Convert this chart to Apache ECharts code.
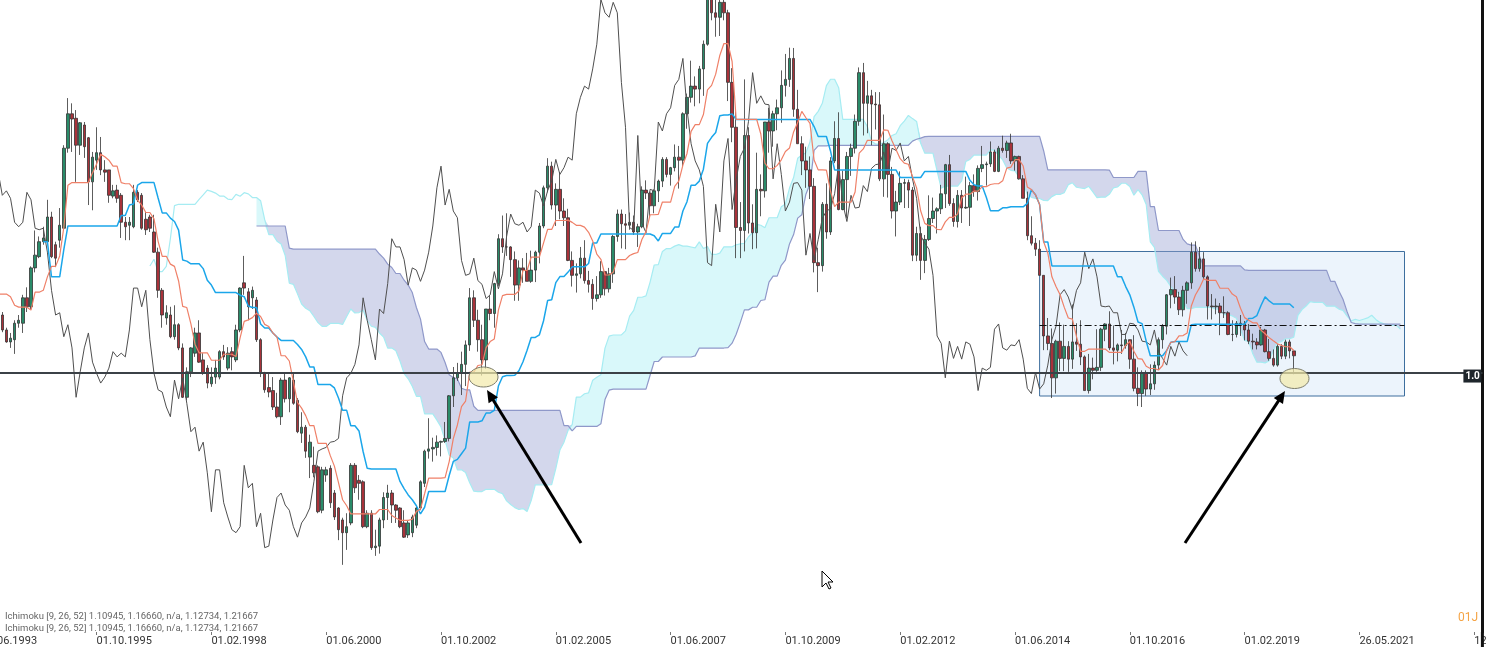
<!DOCTYPE html>
<html><head><meta charset="utf-8">
<script src="https://cdn.jsdelivr.net/npm/echarts@6/dist/echarts.min.js"></script>
<style>html,body{margin:0;padding:0;background:#fff}#c{width:1486px;height:647px}</style>
</head><body><div id="c"></div>
<script>
// EUR/USD monthly, first bar = Aug 1992, last bar = Feb 2020
const firstYear = 1992, firstMonth = 8;
const categoryCount = 377; // monthly slots incl. 26-month forward cloud and empty future space

const opens = [
1.370,1.380,1.310,1.250,1.220,
1.210,1.190,1.170,1.190,1.230,1.210,1.180,1.140,1.190,1.170,1.157,1.137,
1.121,1.124,1.146,1.146,1.180,1.168,1.220,1.235,1.255,1.255,1.288,1.251,
1.257,1.273,1.380,1.426,1.420,1.384,1.411,1.394,1.335,1.364,1.374,1.351,
1.351,1.316,1.324,1.317,1.281,1.277,1.275,1.321,1.317,1.285,1.288,1.268,
1.241,1.190,1.153,1.157,1.128,1.144,1.113,1.047,1.081,1.106,1.133,1.097,
1.086,1.065,1.074,1.074,1.108,1.086,1.108,1.097,1.137,1.200,1.188,1.180,
1.177,1.124,1.079,1.060,1.056,1.034,1.021,1.070,1.045,1.070,1.043,0.999,
1.007,0.967,0.956,0.954,0.896,0.943,0.952,0.919,0.899,0.883,0.866,0.879,
0.956,0.936,0.934,0.874,0.892,0.846,0.848,0.883,0.913,0.919,0.903,0.899,
0.879,0.863,0.866,0.876,0.899,0.932,0.975,0.978,0.980,0.987,0.988,0.992,
1.049,1.073,1.079,1.091,1.117,1.180,1.150,1.124,1.097,1.165,1.159,1.199,
1.259,1.248,1.248,1.231,1.197,1.220,1.217,1.202,1.217,1.241,1.276,1.327,
1.356,1.304,1.325,1.296,1.287,1.230,1.210,1.212,1.233,1.203,1.198,1.179,
1.184,1.215,1.192,1.212,1.262,1.292,1.279,1.277,1.281,1.268,1.275,1.324,
1.320,1.303,1.323,1.336,1.365,1.345,1.354,1.368,1.364,1.426,1.448,1.463,
1.459,1.486,1.519,1.579,1.561,1.555,1.575,1.561,1.468,1.408,1.274,1.270,
1.397,1.280,1.267,1.325,1.323,1.415,1.403,1.426,1.434,1.464,1.472,1.500,
1.432,1.386,1.363,1.351,1.329,1.227,1.223,1.305,1.268,1.363,1.393,1.298,
1.338,1.369,1.380,1.416,1.481,1.440,1.450,1.439,1.438,1.339,1.386,1.345,
1.296,1.308,1.333,1.334,1.324,1.237,1.266,1.230,1.258,1.286,1.296,1.299,
1.319,1.358,1.306,1.282,1.317,1.300,1.301,1.330,1.322,1.353,1.358,1.359,
1.375,1.349,1.380,1.377,1.387,1.363,1.369,1.339,1.313,1.263,1.253,1.245,
1.210,1.129,1.119,1.073,1.122,1.099,1.115,1.098,1.121,1.118,1.101,1.056,
1.086,1.083,1.087,1.138,1.145,1.113,1.110,1.117,1.116,1.124,1.098,1.059,
1.052,1.080,1.058,1.065,1.090,1.124,1.142,1.184,1.191,1.181,1.164,1.190,
1.200,1.241,1.219,1.232,1.208,1.169,1.168,1.169,1.160,1.160,1.131,1.131,
1.146,1.145,1.137,1.122,1.121,1.117,1.137,1.108,1.099,1.090,1.115,1.102,
1.121,1.109];

const highs = [
1.400,1.405,1.310,1.260,1.250,
1.230,1.200,1.200,1.240,1.250,1.235,1.220,1.225,1.230,1.180,1.161,1.140,
1.133,1.150,1.157,1.184,1.194,1.222,1.270,1.262,1.275,1.311,1.295,1.255,
1.300,1.384,1.447,1.440,1.431,1.415,1.415,1.395,1.375,1.408,1.395,1.364,
1.351,1.331,1.331,1.320,1.288,1.288,1.331,1.324,1.320,1.295,1.291,1.291,
1.247,1.193,1.170,1.168,1.170,1.146,1.119,1.087,1.114,1.140,1.150,1.106,
1.090,1.087,1.097,1.110,1.117,1.114,1.114,1.144,1.194,1.236,1.193,1.195,
1.181,1.126,1.081,1.079,1.074,1.053,1.073,1.079,1.074,1.079,1.046,1.027,
1.010,0.997,0.981,0.956,0.954,0.954,0.956,0.923,0.900,0.886,0.892,0.959,
0.959,0.943,0.936,0.896,0.896,0.870,0.886,0.920,0.930,0.923,0.904,0.900,
0.896,0.883,0.890,0.903,0.936,0.977,1.019,0.993,0.996,0.989,1.014,1.050,
1.0875,1.093,1.108,1.123,1.193,1.190,1.164,1.144,1.165,1.183,1.200,1.265,
1.290,1.293,1.249,1.242,1.230,1.233,1.240,1.243,1.243,1.280,1.330,1.3667,
1.362,1.333,1.348,1.313,1.299,1.242,1.226,1.248,1.257,1.216,1.205,1.209,
1.229,1.215,1.220,1.264,1.298,1.298,1.292,1.294,1.290,1.279,1.329,1.337,
1.322,1.325,1.338,1.368,1.368,1.355,1.385,1.383,1.428,1.453,1.497,1.476,
1.490,1.524,1.590,1.602,1.582,1.584,1.6038,1.565,1.487,1.429,1.308,1.472,
1.408,1.305,1.374,1.345,1.415,1.434,1.430,1.445,1.484,1.506,1.5144,1.514,
1.458,1.396,1.382,1.369,1.340,1.247,1.308,1.333,1.368,1.416,1.428,1.350,
1.375,1.386,1.425,1.488,1.494,1.470,1.458,1.455,1.455,1.425,1.388,1.355,
1.323,1.349,1.339,1.338,1.328,1.275,1.275,1.264,1.317,1.314,1.301,1.331,
1.359,1.371,1.313,1.324,1.324,1.342,1.335,1.345,1.357,1.383,1.362,1.389,
1.378,1.383,1.3967,1.390,1.3993,1.370,1.370,1.344,1.322,1.289,1.260,1.257,
1.210,1.153,1.139,1.124,1.147,1.144,1.122,1.171,1.146,1.150,1.103,1.105,
1.100,1.138,1.140,1.146,1.162,1.143,1.119,1.137,1.133,1.124,1.130,1.087,
1.083,1.083,1.091,1.095,1.127,1.145,1.185,1.207,1.209,1.188,1.196,1.202,
1.254,1.2555,1.248,1.241,1.210,1.185,1.179,1.173,1.182,1.162,1.150,1.149,
1.157,1.149,1.145,1.132,1.126,1.1412,1.1385,1.125,1.111,1.118,1.118,1.124,
1.124,1.1095];

const lows = [
1.350,1.300,1.240,1.200,1.200,
1.180,1.150,1.160,1.180,1.200,1.170,1.130,1.120,1.150,1.140,1.134,1.120,
1.113,1.105,1.140,1.133,1.161,1.164,1.214,1.233,1.251,1.251,1.233,1.221,
1.247,1.271,1.374,1.375,1.335,1.371,1.367,1.304,1.297,1.351,1.344,1.335,
1.307,1.313,1.307,1.260,1.257,1.257,1.273,1.308,1.271,1.264,1.268,1.240,
1.180,1.140,1.144,1.126,1.124,1.110,1.046,1.043,1.074,1.101,1.093,1.077,
1.059,1.061,1.065,1.071,1.097,1.083,1.083,1.094,1.134,1.184,1.150,1.165,
1.121,1.074,1.053,1.047,1.030,1.019,1.010,1.040,1.027,1.037,0.999,0.986,
0.966,0.939,0.940,0.892,0.892,0.934,0.899,0.883,0.856,0.823,0.843,0.876,
0.919,0.910,0.872,0.872,0.843,0.835,0.838,0.872,0.883,0.879,0.879,0.872,
0.859,0.859,0.860,0.872,0.896,0.927,0.965,0.961,0.969,0.968,0.986,0.988,
1.034,1.069,1.050,1.062,1.109,1.141,1.108,1.076,1.085,1.150,1.140,1.196,
1.240,1.236,1.208,1.176,1.176,1.200,1.202,1.200,1.201,1.226,1.273,1.321,
1.298,1.276,1.285,1.276,1.229,1.195,1.187,1.206,1.199,1.187,1.164,1.175,
1.180,1.183,1.187,1.200,1.255,1.246,1.245,1.271,1.264,1.248,1.273,1.312,
1.287,1.293,1.308,1.328,1.341,1.330,1.349,1.326,1.356,1.406,1.441,1.436,
1.440,1.450,1.517,1.551,1.529,1.530,1.551,1.443,1.388,1.233,1.233,1.242,
1.266,1.245,1.246,1.289,1.314,1.374,1.382,1.404,1.414,1.449,1.462,1.422,
1.386,1.344,1.327,1.312,1.214,1.1876,1.215,1.259,1.264,1.360,1.297,1.297,
1.287,1.343,1.373,1.410,1.397,1.400,1.384,1.405,1.336,1.315,1.314,1.286,
1.262,1.304,1.300,1.300,1.229,1.229,1.204,1.213,1.256,1.280,1.266,1.292,
1.300,1.303,1.275,1.274,1.280,1.299,1.276,1.315,1.310,1.348,1.330,1.355,
1.348,1.348,1.374,1.367,1.359,1.350,1.338,1.313,1.257,1.250,1.236,1.210,
1.110,1.110,1.046,1.052,1.082,1.082,1.081,1.085,1.109,1.090,1.056,1.052,
1.071,1.081,1.082,1.122,1.110,1.091,1.095,1.105,1.112,1.085,1.055,1.0352,
1.034,1.049,1.050,1.057,1.084,1.112,1.131,1.166,1.172,1.157,1.155,1.172,
1.192,1.215,1.215,1.205,1.151,1.151,1.158,1.130,1.153,1.130,1.122,1.127,
1.129,1.123,1.118,1.111,1.111,1.116,1.107,1.096,1.0879,1.088,1.098,1.098,
1.099,1.0778];

const closes = [
1.380,1.310,1.250,1.220,1.210,
1.190,1.170,1.190,1.230,1.210,1.180,1.140,1.190,1.170,1.157,1.137,1.121,
1.126,1.146,1.150,1.180,1.168,1.220,1.237,1.255,1.260,1.288,1.235,1.233,
1.277,1.380,1.426,1.419,1.384,1.414,1.382,1.335,1.368,1.374,1.351,1.348,
1.317,1.323,1.313,1.281,1.275,1.281,1.321,1.311,1.273,1.271,1.273,1.241,
1.190,1.157,1.160,1.128,1.144,1.113,1.047,1.081,1.113,1.133,1.094,1.079,
1.066,1.074,1.086,1.108,1.101,1.106,1.101,1.137,1.193,1.193,1.168,1.190,
1.124,1.079,1.057,1.054,1.034,1.021,1.070,1.045,1.073,1.039,1.001,1.007,
0.975,0.987,0.946,0.894,0.950,0.950,0.906,0.887,0.870,0.866,0.874,0.956,
0.926,0.932,0.874,0.892,0.846,0.848,0.883,0.913,0.919,0.903,0.896,0.874,
0.860,0.879,0.887,0.899,0.934,0.975,0.978,0.980,0.987,0.988,0.992,1.049,
1.073,1.079,1.091,1.117,1.180,1.150,1.124,1.097,1.165,1.159,1.199,1.259,
1.248,1.248,1.231,1.197,1.220,1.217,1.202,1.217,1.241,1.276,1.327,1.356,
1.304,1.325,1.296,1.287,1.230,1.210,1.212,1.233,1.203,1.198,1.179,1.184,
1.215,1.192,1.212,1.262,1.292,1.279,1.277,1.281,1.268,1.275,1.324,1.320,
1.303,1.323,1.336,1.365,1.345,1.354,1.368,1.364,1.426,1.448,1.463,1.459,
1.486,1.519,1.579,1.561,1.555,1.575,1.561,1.468,1.408,1.274,1.270,1.397,
1.280,1.267,1.325,1.323,1.415,1.403,1.426,1.434,1.464,1.472,1.500,1.432,
1.386,1.363,1.351,1.329,1.227,1.223,1.305,1.268,1.363,1.393,1.298,1.338,
1.369,1.380,1.416,1.481,1.440,1.450,1.439,1.438,1.339,1.386,1.345,1.296,
1.308,1.333,1.334,1.324,1.237,1.266,1.230,1.258,1.286,1.296,1.299,1.319,
1.358,1.306,1.282,1.317,1.300,1.301,1.330,1.322,1.353,1.358,1.359,1.375,
1.349,1.380,1.377,1.387,1.363,1.369,1.339,1.313,1.263,1.253,1.245,1.210,
1.129,1.119,1.073,1.122,1.099,1.115,1.098,1.121,1.118,1.101,1.056,1.086,
1.083,1.087,1.138,1.145,1.113,1.110,1.117,1.116,1.124,1.098,1.059,1.052,
1.080,1.058,1.065,1.090,1.124,1.142,1.184,1.191,1.181,1.164,1.190,1.200,
1.241,1.219,1.232,1.208,1.169,1.168,1.169,1.160,1.160,1.131,1.131,1.146,
1.145,1.137,1.122,1.121,1.117,1.137,1.108,1.099,1.090,1.115,1.102,1.121,
1.109,1.1025];

const tickAt = ['01.06.1993','01.10.1995','01.02.1998','01.06.2000','01.10.2002','01.02.2005','01.06.2007',
  '01.10.2009','01.02.2012','01.06.2014','01.10.2016','01.02.2019','01.06.2021','01.10.2023'];
const tickLabels = ['01.06.1993','01.10.1995','01.02.1998','01.06.2000','01.10.2002','01.02.2005','01.06.2007',
  '01.10.2009','01.02.2012','01.06.2014','01.10.2016','01.02.2019','26.05.2021','12.10.2023'];

const supportLevel = 1.0754;     // solid horizontal line
const dashLevel = 1.1436;        // dash-dot line
const boxTop = 1.2419, boxBottom = 1.0487;
const legendText = 'Ichimoku [9, 26, 52] 1.10945, 1.16660, n/a, 1.12734, 1.21667';

// ---------- build ----------
const cats = [];
for (let k = 0; k < categoryCount; k++) {
  const t = firstMonth - 1 + k;
  const mm = t % 12 + 1, yy = firstYear + Math.floor(t / 12);
  cats.push('01.' + String(mm).padStart(2, '0') + '.' + yy);
}
const N = cats.length, B = closes.length;
function midRange(i, n) {
  if (i < n - 1) return null;
  let h = -Infinity, l = Infinity;
  for (let k = i - n + 1; k <= i; k++) { if (highs[k] > h) h = highs[k]; if (lows[k] < l) l = lows[k]; }
  return (h + l) / 2;
}
const nul = () => new Array(N).fill(null);
const tenkan = nul(), kijun = nul(), spanA = nul(), spanB = nul(), chikou = nul();
for (let i = 0; i < B; i++) {
  tenkan[i] = midRange(i, 9);
  kijun[i] = midRange(i, 26);
  if (tenkan[i] != null && kijun[i] != null) spanA[i + 26] = (tenkan[i] + kijun[i]) / 2;
  const sb = midRange(i, 52);
  if (sb != null) spanB[i + 26] = sb;
  if (i >= 26) chikou[i - 26] = closes[i];
}
const cloudBase = nul(), cloudUp = nul(), cloudDown = nul();
for (let j = 0; j < N; j++) {
  if (spanA[j] != null && spanB[j] != null) {
    cloudBase[j] = Math.min(spanA[j], spanB[j]);
    cloudUp[j] = spanA[j] > spanB[j] ? spanA[j] - spanB[j] : 0;
    cloudDown[j] = spanB[j] > spanA[j] ? spanB[j] - spanA[j] : 0;
  }
}
const candles = [];
for (let i = 0; i < B; i++) candles.push([opens[i], closes[i], lows[i], highs[i]]);

const tickSet = new Set(tickAt);
const showTick = (idx, val) => tickSet.has(cats[idx]);

const chart = echarts.init(document.getElementById('c'));
const lineBase = { type: 'line', showSymbol: false, symbol: 'none', silent: true };
chart.setOption({
  animation: false,
  backgroundColor: '#ffffff',
  grid: { left: -59.2, right: 3.6, top: 0, bottom: 15, containLabel: false, outerBoundsMode: 'none' },
  xAxis: {
    type: 'category', data: cats, boundaryGap: false,
    axisLine: { show: false },
    axisTick: { show: true, interval: showTick, length: 3, lineStyle: { color: '#777' } },
    axisLabel: {
      interval: showTick, align: 'left', margin: 4, hideOverlap: false,
      color: '#333', fontSize: 11, fontFamily: 'Roboto, sans-serif',
      formatter: (v) => { const k = tickAt.indexOf(v); return k >= 0 ? tickLabels[k] : ''; }
    },
    splitLine: { show: false }
  },
  yAxis: {
    type: 'value', position: 'right', min: 0.73321, max: 1.57812,
    axisLine: { show: true, lineStyle: { color: '#111', width: 3 } },
    axisTick: { show: false }, axisLabel: { show: false }, splitLine: { show: false }
  },
  series: [
    Object.assign({}, lineBase, { name: 'cloudBase', data: cloudBase, stack: 'cloud', z: 1,
      lineStyle: { width: 0, opacity: 0 },
      markArea: { silent: true, itemStyle: { color: 'rgba(205,225,246,0.38)', borderColor: '#3e6f9e', borderWidth: 1 },
        data: [[{ coord: [cats[268], boxTop] }, { coord: [cats[357], boxBottom] }]] } }),
    Object.assign({}, lineBase, { name: 'cloudUp', data: cloudUp, stack: 'cloud', z: 1,
      lineStyle: { width: 0, opacity: 0 }, areaStyle: { color: '#d9f8fa', opacity: 1 } }),
    Object.assign({}, lineBase, { name: 'cloudDown', data: cloudDown, stack: 'cloud', z: 1,
      lineStyle: { width: 0, opacity: 0 }, areaStyle: { color: 'rgba(150,160,210,0.42)', opacity: 1 } }),
    Object.assign({}, lineBase, { name: 'Senkou A', data: spanA, z: 2, lineStyle: { color: '#a6ecf2', width: 1.2 } }),
    Object.assign({}, lineBase, { name: 'Senkou B', data: spanB, z: 2, lineStyle: { color: '#8f98c9', width: 1.2 } }),
    { type: 'candlestick', name: 'EURUSD', data: candles, barWidth: 3, z: 3, silent: true, clip: true,
      itemStyle: { color: '#2a8b69', color0: '#a8323a', borderColor: '#333', borderColor0: '#333', borderWidth: 0.8 } },
    Object.assign({}, lineBase, { name: 'Chikou', data: chikou, z: 4, lineStyle: { color: '#4f4f4f', width: 1 },
      markLine: { silent: true, symbol: ['none', 'none'], label: { show: false },
        data: [
          { yAxis: supportLevel, lineStyle: { color: '#3b4147', width: 2, type: 'solid' } },
          [{ coord: [cats[268], dashLevel], lineStyle: { color: '#111', width: 1, type: [7, 3, 2, 3] } },
           { coord: [cats[357], dashLevel] }]
        ] },
      markPoint: { silent: true, data: [{ coord: [cats[N - 1], supportLevel], symbol: 'rect', symbolSize: [18, 13], symbolOffset: [-10, 0],
        itemStyle: { color: '#1f262c' },
        label: { show: true, position: 'inside', align: 'left', offset: [-7, 0], formatter: '1.0', color: '#fff',
          fontSize: 10, fontWeight: 'bold', fontFamily: 'Roboto, sans-serif' } }] } }),
    Object.assign({}, lineBase, { name: 'Kijun', data: kijun, z: 4, lineStyle: { color: '#1ba6ea', width: 1.5 } }),
    Object.assign({}, lineBase, { name: 'Tenkan', data: tenkan, z: 4, lineStyle: { color: '#ef8068', width: 1.2 } })
  ]
});

// ---------- annotations, anchored in data space ----------
function px(idx, price) {
  const i0 = Math.floor(idx), f = idx - i0;
  const a = chart.convertToPixel({ gridIndex: 0 }, [i0, price]);
  const b = chart.convertToPixel({ gridIndex: 0 }, [i0 + 1, price]);
  return [a[0] + (b[0] - a[0]) * f, a[1]];
}
const ellipses = [[132.37, 1.0741], [330.17, 1.0721]];
const arrows = [[[156.15, 0.8522], [133.22, 1.0567]], [[303.46, 0.8522], [327.85, 1.0554]]];
const g = [];
ellipses.forEach(e => {
  const p = px(e[0], e[1]);
  g.push({ type: 'ellipse', shape: { cx: p[0], cy: p[1], rx: 14.5, ry: 10 }, z: 100,
    style: { fill: 'rgba(243,234,172,0.72)', stroke: '#7d7d6a', lineWidth: 1 } });
});
arrows.forEach(a => {
  const t = px(a[0][0], a[0][1]), h = px(a[1][0], a[1][1]);
  const dx = h[0] - t[0], dy = h[1] - t[1], L = Math.hypot(dx, dy), ux = dx / L, uy = dy / L;
  const bx = h[0] - ux * 12, by = h[1] - uy * 12;
  g.push({ type: 'line', z: 100, shape: { x1: t[0], y1: t[1], x2: bx + ux * 2, y2: by + uy * 2 }, style: { stroke: '#000', lineWidth: 3 } });
  g.push({ type: 'polygon', z: 100, shape: { points: [[h[0], h[1]], [bx - uy * 5.5, by + ux * 5.5], [bx + uy * 5.5, by - ux * 5.5]] },
    style: { fill: '#000' } });
});
// right price-scale border continues down past the time axis
const edge = chart.convertToPixel({ gridIndex: 0 }, [N - 1, 0.73321]);
g.push({ type: 'line', z: 120, shape: { x1: edge[0], y1: edge[1], x2: edge[0], y2: 647 }, style: { stroke: '#111', lineWidth: 3 } });
// mouse pointer seen in the screenshot
const cx = 822, cy = 571;
g.push({ type: 'polygon', z: 110, shape: { points: [[0,0],[0,16],[4,12],[7,18],[9,17],[6,11],[11,11]].map(q => [q[0] + cx, q[1] + cy]) },
  style: { fill: '#fff', stroke: '#000', lineWidth: 1 } });
g.push({ type: 'text', x: 5, y: 617, z: 100, style: { text: legendText, fill: '#666', font: '9.5px Roboto, sans-serif', verticalAlign: 'middle' } });
g.push({ type: 'text', x: 5, y: 629, z: 100, style: { text: legendText, fill: '#666', font: '9.5px Roboto, sans-serif', verticalAlign: 'middle' } });
g.push({ type: 'text', x: 1458, y: 618, z: 100, style: { text: '01J', fill: '#f5a445', font: '12px Roboto, sans-serif', verticalAlign: 'middle' } });
chart.setOption({ graphic: g });
</script>
</body></html>
